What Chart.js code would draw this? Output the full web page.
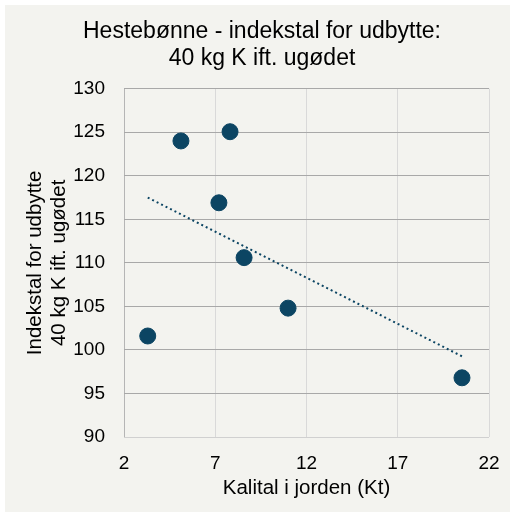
<!DOCTYPE html>
<html><head><meta charset="utf-8">
<script src="https://cdn.jsdelivr.net/npm/chart.js@4/dist/chart.umd.min.js"></script>
<style>
html,body{margin:0;padding:0;background:#ffffff;}
#wrap{position:absolute;left:5px;top:5px;width:505px;height:507px;}
canvas{display:block;}
</style></head>
<body>
<div id="wrap"><canvas id="c" width="505" height="507"></canvas></div>
<script>
const kalital = [3.3, 5.12, 7.81, 7.2, 8.58, 10.99, 20.52];
const indeks = [101.6, 124.0, 125.06, 116.9, 110.6, 104.8, 96.8];
const trendX = [3.3, 20.52];
const trendY = [117.5, 99.27];
const titleLines = ['Hestebønne - indekstal for udbytte:', '40 kg K ift. ugødet'];
const yTitle = ['Indekstal for udbytte', '40 kg K ift. ugødet'];
const xTitle = 'Kalital i jorden (Kt)';

const FONT = "'Liberation Sans', Arial, sans-serif";
const bg = {
  id: 'bg',
  beforeDraw(chart) {
    const ctx = chart.ctx;
    ctx.save();
    ctx.fillStyle = '#f3f3ef';
    ctx.fillRect(0, 0, chart.width, chart.height);
    ctx.restore();
  }
};

new Chart(document.getElementById('c'), {
  type: 'scatter',
  data: {
    datasets: [
      {
        label: 'Trend',
        data: trendX.map((x, i) => ({x: x, y: trendY[i]})),
        showLine: true,
        borderColor: '#0c4563',
        borderWidth: 2,
        borderDash: [2, 3],
        pointRadius: 0,
        fill: false,
        order: 2
      },
      {
        label: 'Indeks',
        data: kalital.map((x, i) => ({x: x, y: indeks[i]})),
        backgroundColor: '#0c4563',
        borderColor: '#0c4563',
        pointRadius: 8,
        pointHoverRadius: 8,
        order: 1
      }
    ]
  },
  options: {
    responsive: false,
    animation: false,
    layout: {padding: {left: 9, right: 0, top: 0, bottom: 0}},
    plugins: {
      legend: {display: false},
      tooltip: {enabled: false},
      title: {
        display: true,
        text: titleLines,
        color: '#000000',
        font: {family: FONT, size: 23, weight: 'normal', lineHeight: 1.2},
        padding: {top: 12.5, bottom: 16}
      }
    },
    scales: {
      x: {
        type: 'linear',
        min: 2, max: 22,
        ticks: {stepSize: 5, color: '#000000', padding: 15, font: {family: FONT, size: 19}},
        grid: {
          drawTicks: false,
          color: (c) => c.tick && c.tick.value === 2 ? '#b5b5b5' : '#d9d9d9',
          lineWidth: 1
        },
        border: {display: false},
        title: {display: true, text: xTitle, color: '#000000', font: {family: FONT, size: 20.5, lineHeight: 1.17}, padding: {top: 0, bottom: 11.5}},
        afterFit: (s) => { s.height = 75; s.paddingRight = 21; s.paddingLeft = 0; }
      },
      y: {
        type: 'linear',
        position: 'left',
        min: 90, max: 130,
        ticks: {stepSize: 5, color: '#000000', padding: 19, font: {family: FONT, size: 19}},
        grid: {
          drawTicks: false,
          color: (c) => c.tick && c.tick.value === 90 ? '#d0d0d0' : '#a8a8a8',
          lineWidth: 1
        },
        border: {display: false},
        title: {display: true, text: yTitle, color: '#000000', font: {family: FONT, size: 20.5, lineHeight: 1.17}, padding: {top: 9, bottom: 0}},
        afterFit: (s) => { s.width = 110; }
      },
      yRight: {
        type: 'linear',
        position: 'right',
        display: true,
        min: 90, max: 130,
        grid: {display: false, drawTicks: false},
        ticks: {display: false},
        border: {display: false},
        afterFit: (s) => { s.width = 21; }
      }
    }
  },
  plugins: [bg]
});
</script>
</body></html>
